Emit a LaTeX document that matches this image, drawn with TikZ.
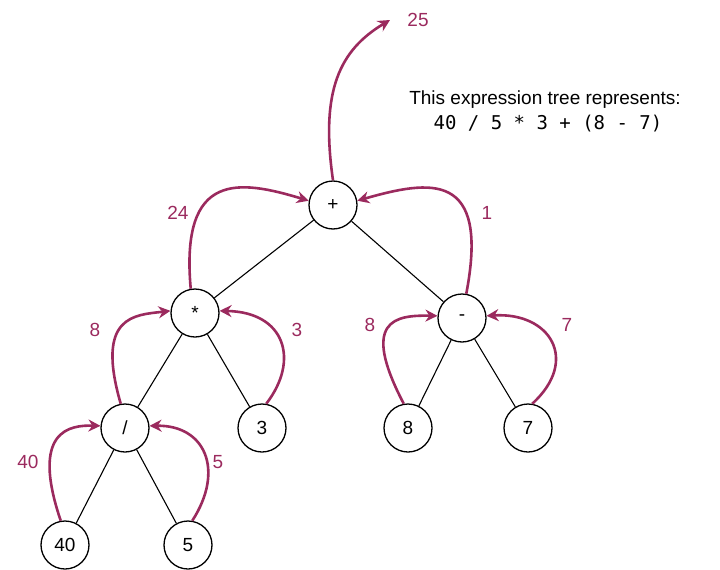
\documentclass[tikz,border=0pt]{standalone}
\usepackage{fontspec}
\setmainfont{Liberation Sans}
\setmonofont{DejaVu Sans Mono}
\usetikzlibrary{arrows.meta}
\definecolor{pur}{HTML}{9B2A5E}
\begin{document}
\begin{tikzpicture}[x=1pt,y=-1pt,
  n/.style={circle,draw,line width=1.3pt,minimum size=48pt,inner sep=0,fill=white,font=\fontsize{19}{22}\selectfont},
  a/.style={draw=pur,line width=2.6pt,-{Stealth[length=12pt,width=12pt]}},
  l/.style={text=pur,font=\fontsize{19}{22}\selectfont}]
\useasboundingbox (0,0) rectangle (720,570);
\node[n] (p) at (333,205) {+};
\node[n] (s) at (195,313) {*};
\node[n] (m) at (462,318) {-};
\node[n] (d) at (125,428) {/};
\node[n] (t) at (262,428) {3};
\node[n] (e8) at (408,428) {8};
\node[n] (e7) at (528,428) {7};
\node[n] (f) at (65,545) {40};
\node[n] (g) at (188,545) {5};
\foreach \u/\v in {p/s,p/m,s/d,s/t,m/e8,m/e7,d/f,d/g} \draw[line width=1.1pt] (\u) -- (\v);
\coordinate (top) at (390,20);
\draw[a] (p.north) .. controls (320,90) and (340,50) .. (top);
\draw[a] (s.100) .. controls (180,170) and (240,180) .. (p.170);
\draw[a] (m.80) .. controls (490,170) and (430,180) .. (p.10);
\draw[a] (d.100) .. controls (95,315) and (135,315) .. (s.175);
\draw[a] (t.80) .. controls (300,360) and (285,312) .. (s.5);
\draw[a] (e8.100) .. controls (360,320) and (395,315) .. (m.175);
\draw[a] (e7.80) .. controls (580,360) and (550,312) .. (m.5);
\draw[a] (f.100) .. controls (30,430) and (70,425) .. (d.175);
\draw[a] (g.80) .. controls (225,470) and (205,425) .. (d.5);
\node[l] (L25) at (418,20) {25};
\node[l] (L24) at (178,213) {24};
\node[l] (L1) at (487,213) {1};
\node[l] (La) at (95,330) {8};
\node[l] (Lb) at (297,330) {3};
\node[l] (Lc) at (370,325) {8};
\node[l] (Ld) at (567,325) {7};
\node[l] (Le) at (28,462) {40};
\node[l] (Lf) at (218,462) {5};
\node[font=\fontsize{19}{22}\selectfont] (t1) at (545,100) {This expression tree represents:};
\node[font=\ttfamily\fontsize{19}{22}\selectfont] (t2) at (548,124) {40 / 5 * 3 + (8 - 7)};
\end{tikzpicture}
\end{document}
